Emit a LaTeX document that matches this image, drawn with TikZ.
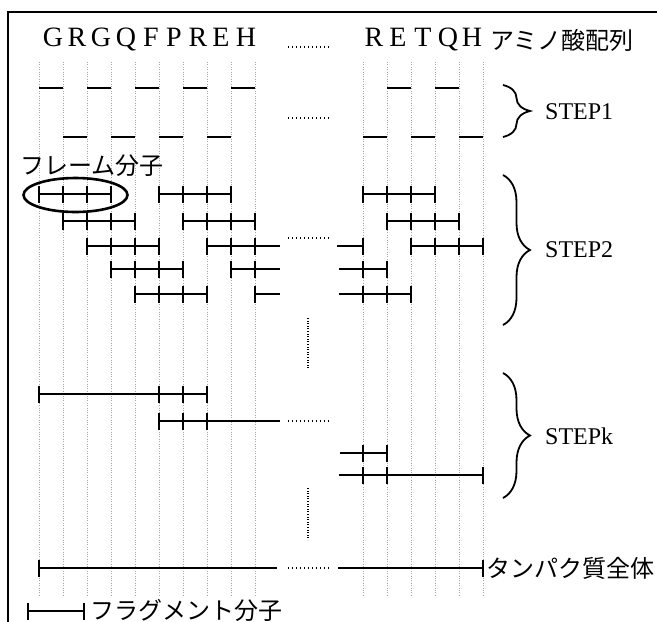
\documentclass[tikz,border=0pt]{standalone}
\usepackage{fontspec}
\setmainfont{Liberation Serif}
\newfontfamily\jpfont{Noto Sans CJK JP}
\usetikzlibrary{decorations.pathreplacing}
\tikzset{
  gline/.style={draw=black!35, line width=0.6pt, dash pattern=on 0.8pt off 1.6pt},
  seg/.style={line width=2.2pt, draw=black},
  tk/.style={line width=1.7pt, draw=black},
  pc/.style={line width=2.8pt, draw=black},
  dts/.style={line width=1.2pt, dash pattern=on 1.1pt off 2.9pt},
  vdts/.style={line width=1.3pt, dash pattern=on 1pt off 1.6pt},
  brc/.style={decorate, decoration={brace, amplitude=27pt}, line width=1.8pt},
  lt/.style={font=\fontsize{28}{28}\selectfont, inner sep=0pt, anchor=base},
  stp/.style={font=\fontsize{24}{24}\selectfont, anchor=west, inner sep=0pt},
  jp/.style={font=\jpfont\fontsize{24}{24}\selectfont, anchor=west, inner sep=0pt},
}
% fragment: row y, from x1 to x2, ticks at list
\newcommand\frag[4]{%
  \draw[seg] (#2,#1) -- (#3,#1);
  \foreach \t in {#4} \draw[tk] (\t,#1-8.5) -- (\t,#1+8.5);}

\begin{document}
\begin{tikzpicture}[x=1pt, y=-1pt]
\useasboundingbox (0,0) rectangle (657,622);

%% ── Frame ────────────────────────────────────────────────────────────────────
\draw[line width=1.8pt] (8,622) -- (8,12) -- (657,12);

%% ── Residue grid ─────────────────────────────────────────────────────────────
\foreach \i in {0,...,9} \draw[gline] (39+24*\i,62) -- (39+24*\i,597);
\foreach \i in {0,...,5} \draw[gline] (363+24*\i,62) -- (363+24*\i,597);

%% ── Sequence ─────────────────────────────────────────────────────────────────
\foreach \x/\c [count=\n] in {53/G,77/R,101/G,126/Q,151/F,174/P,198/R,221/E,246/H}
  \node[lt] (sa\n) at (\x,46) {\c};
\foreach \x/\c [count=\n] in {374/R,398/E,423/T,448/Q,472/H}
  \node[lt] (sb\n) at (\x,46) {\c};
\node[jp] (aa) at (490,40) {アミノ酸配列};

%% ── Gaps (dotted) ────────────────────────────────────────────────────────────
\foreach \y in {47,118,238,421,568} \draw[dts] (288,\y) -- (329,\y);
\draw[vdts] (308,318) -- (308,368);
\draw[vdts] (308,488) -- (308,540);

%% ── STEP1 ────────────────────────────────────────────────────────────────────
\foreach \a/\b in {39/63,87/111,135/159,183/207,231/255,387/411,435/459}
  \draw[pc] (\a,88) -- (\b,88);
\foreach \a/\b in {63/87,111/135,159/183,207/231,363/387,411/435,459/483}
  \draw[pc] (\a,137) -- (\b,137);

%% ── STEP2 ────────────────────────────────────────────────────────────────────
\node[jp] (frame) at (20,166) {フレーム分子};
\draw[line width=2.6pt] (75.5,195) ellipse (52 and 17);
\frag{194}{39}{111}{39,63,87,111}
\frag{194}{159}{231}{159,183,207,231}
\frag{194}{363}{435}{363,387,411,435}
\frag{221}{63}{135}{63,87,111,135}
\frag{221}{183}{255}{183,207,231,255}
\frag{221}{387}{459}{387,411,435,459}
\frag{246}{87}{159}{87,111,135,159}
\frag{246}{207}{280}{207,231,255}
\frag{246}{337}{363}{363}
\frag{246}{411}{483}{411,435,459,483}
\frag{269}{111}{183}{111,135,159,183}
\frag{269}{231}{280}{231,255}
\frag{269}{339}{387}{363,387}
\frag{294}{135}{207}{135,159,183,207}
\frag{294}{255}{280}{255}
\frag{294}{339}{411}{363,387,411}

%% ── STEPk ────────────────────────────────────────────────────────────────────
\frag{394}{39}{207}{39,159,183,207}
\frag{421}{159}{280}{159,183,207}
\frag{453}{340}{387}{363,387}
\frag{475}{339}{483}{363,387,483}

%% ── Whole protein ────────────────────────────────────────────────────────────
\frag{568}{39}{277}{39}
\frag{568}{338}{483}{483}
\node[jp] (prot) at (486,568) {タンパク質全体};

%% ── Braces ───────────────────────────────────────────────────────────────────
\coordinate (b1t) at (503,85);  \coordinate (b1b) at (503,137);
\coordinate (b2t) at (503,175); \coordinate (b2b) at (503,325);
\coordinate (bkt) at (503,373); \coordinate (bkb) at (503,498);
\draw[brc] (b1t) -- (b1b);
\draw[brc] (b2t) -- (b2b);
\draw[brc] (bkt) -- (bkb);
\node[stp] (st1) at (545,112) {STEP1};
\node[stp] (st2) at (545,250) {STEP2};
\node[stp] (stk) at (545,436) {STEPk};

%% ── Legend ───────────────────────────────────────────────────────────────────
\frag{611}{28}{84}{28,84}
\node[jp] (fragl) at (90,610) {フラグメント分子};

\end{tikzpicture}
\end{document}
